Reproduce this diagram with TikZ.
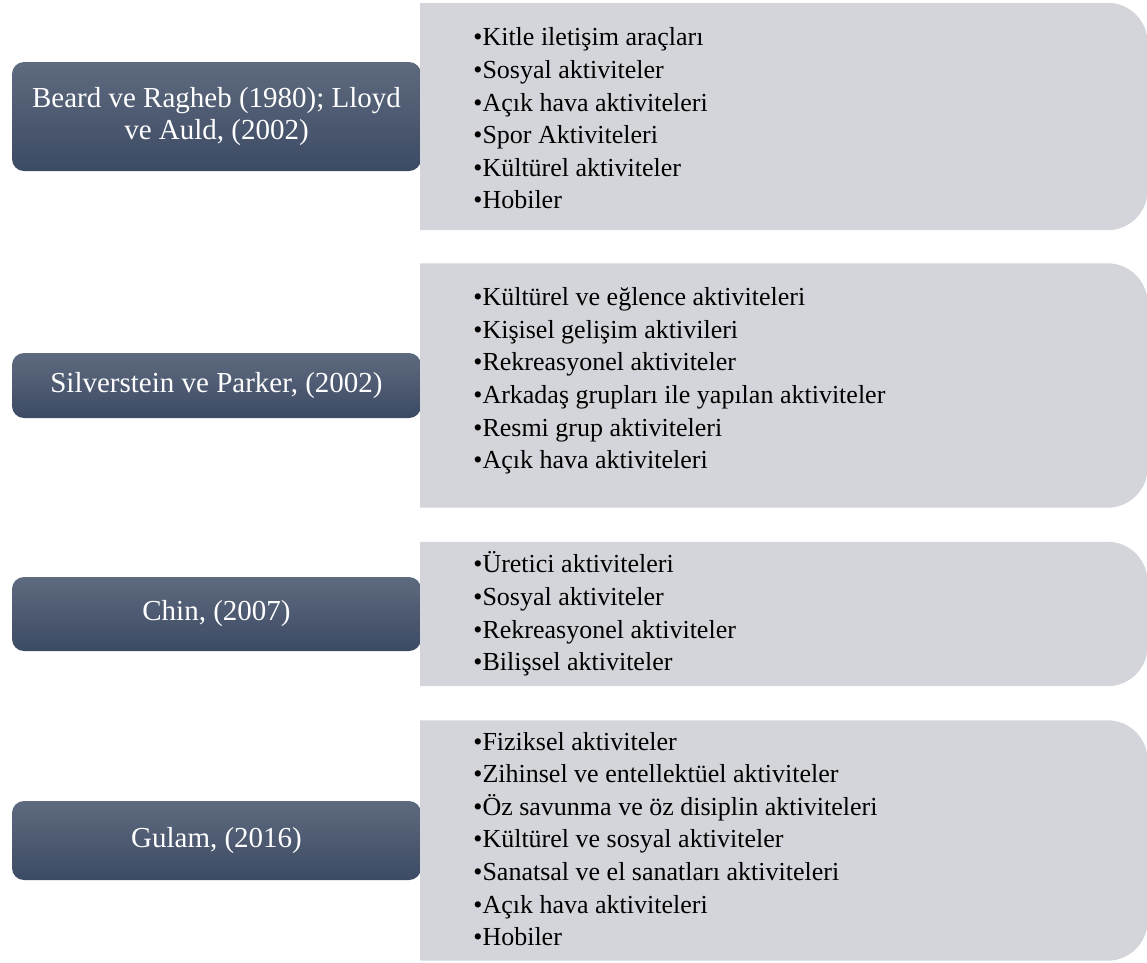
\documentclass[tikz,border=0pt]{standalone}
\usepackage{fontspec}
\setmainfont{Liberation Serif}
\usetikzlibrary{positioning}
\definecolor{authtop}{HTML}{5E6A7E}
\definecolor{authbot}{HTML}{3C4A64}
\definecolor{listgray}{HTML}{D4D5DA}

\begin{document}
\begin{tikzpicture}[x=1pt, y=-1pt]
		% Define styles
		\tikzset{
			author/.style={rectangle, rounded corners=12pt, top color=authtop, bottom color=authbot, text=white, minimum width=409pt, inner sep=0pt, align=center, font=\fontsize{29}{32}\selectfont},
			listbox/.style={rectangle, minimum width=727pt, inner sep=0pt},
			items/.style={inner sep=0pt, align=left, font=\fontsize{26}{32.6}\selectfont}
		}
		\useasboundingbox (0,0) rectangle (1147,962);
		
		% Author boxes
		\node[author, minimum height=109pt] (a1) at (216.5,116.5) {Beard ve Ragheb (1980); Lloyd\\ve Auld, (2002)};
		\node[author, minimum height=65pt] (a2) at (216.5,385.5) {Silverstein ve Parker, (2002)};
		\node[author, minimum height=74pt] (a3) at (216.5,614) {Chin, (2007)};
		\node[author, minimum height=79pt] (a4) at (216.5,840.5) {Gulam, (2016)};
		
		% List boxes (square on the left, round on the right)
		\node[listbox, minimum height=227pt, right=-1pt of a1] (g1) {};
		\node[listbox, minimum height=244pt, right=-1pt of a2] (g2) {};
		\node[listbox, minimum height=144pt, right=-1pt of a3] (g3) {};
		\node[listbox, minimum height=240pt, right=-1pt of a4] (g4) {};
		\foreach \g in {g1,g2,g3,g4}
			\fill[listgray] (\g.north west) -- ([xshift=-40pt]\g.north east) arc[start angle=90, end angle=0, radius=40pt]
				-- ([yshift=40pt]\g.south east) arc[start angle=0, end angle=-90, radius=40pt] -- (\g.south west) -- cycle;
		
		% Lists
		\node[items, right=52pt of a1, yshift=-2pt] (l1) {\textbullet Kitle iletişim araçları\\\textbullet Sosyal aktiviteler\\\textbullet Açık hava aktiviteleri\\\textbullet Spor Aktiviteleri\\\textbullet Kültürel aktiviteler\\\textbullet Hobiler};
		\node[items, right=52pt of a2, yshift=4.5pt] (l2) {\textbullet Kültürel ve eğlence aktiviteleri\\\textbullet Kişisel gelişim aktivileri\\\textbullet Rekreasyonel aktiviteler\\\textbullet Arkadaş grupları ile yapılan aktiviteler\\\textbullet Resmi grup aktiviteleri\\\textbullet Açık hava aktiviteleri};
		\node[items, right=52pt of a3] (l3) {\textbullet Üretici aktiviteleri\\\textbullet Sosyal aktiviteler\\\textbullet Rekreasyonel aktiviteler\\\textbullet Bilişsel aktiviteler};
		\node[items, right=52pt of a4, yshift=1.5pt] (l4) {\textbullet Fiziksel aktiviteler\\\textbullet Zihinsel ve entellektüel aktiviteler\\\textbullet Öz savunma ve öz disiplin aktiviteleri\\\textbullet Kültürel ve sosyal aktiviteler\\\textbullet Sanatsal ve el sanatları aktiviteleri\\\textbullet Açık hava aktiviteleri\\\textbullet Hobiler};
\end{tikzpicture}
\end{document}
